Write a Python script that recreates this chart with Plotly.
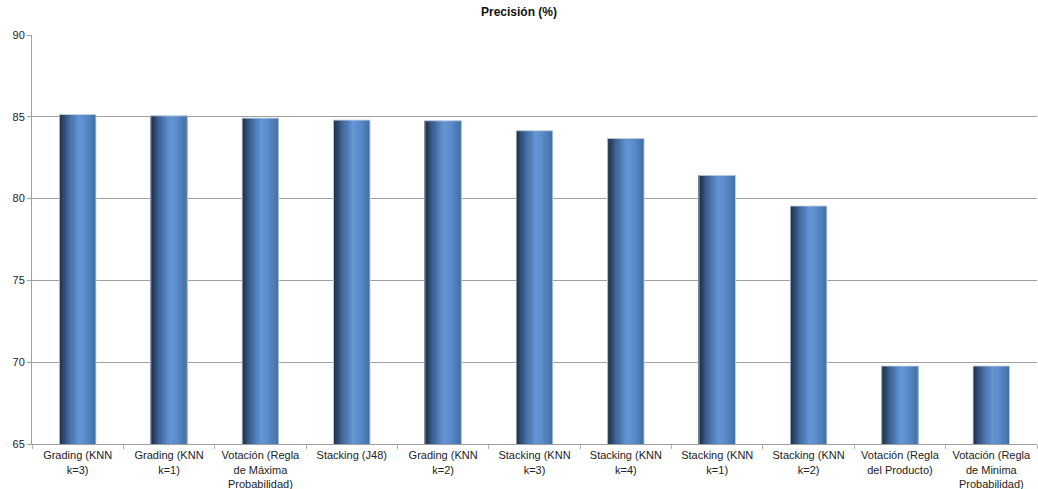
import plotly.graph_objects as go

# Classifier ensembles and their precision
categories = [
    "Grading (KNN<br>k=3)",
    "Grading (KNN<br>k=1)",
    "Votación (Regla<br>de Máxima<br>Probabilidad)",
    "Stacking (J48)",
    "Grading (KNN<br>k=2)",
    "Stacking (KNN<br>k=3)",
    "Stacking (KNN<br>k=4)",
    "Stacking (KNN<br>k=1)",
    "Stacking (KNN<br>k=2)",
    "Votación (Regla<br>del Producto)",
    "Votación (Regla<br>de Minima<br>Probabilidad)",
]
precision = [85.14, 85.06, 84.92, 84.8, 84.76, 84.15, 83.68, 81.42, 79.55, 69.77, 69.77]

y_ticks = [65, 70, 75, 80, 85, 90]

# Horizontal shading stops across each bar (position, rgb)
stops = [
    (0.00, (26, 42, 66)),
    (0.25, (62, 102, 153)),
    (0.55, (100, 150, 214)),
    (0.75, (88, 137, 200)),
    (1.00, (68, 112, 160)),
]


def shade(t):
    for (p0, c0), (p1, c1) in zip(stops, stops[1:]):
        if p0 <= t <= p1:
            f = (t - p0) / (p1 - p0) if p1 > p0 else 0
            r, g, b = (round(a + (b_ - a) * f) for a, b_ in zip(c0, c1))
            return f"rgb({r},{g},{b})"
    return "rgb(68,112,160)"


bar_w = 0.4
n_slices = 32
step = bar_w / n_slices

fig = go.Figure()
for i in range(n_slices):
    t = (i + 0.5) / n_slices
    fig.add_trace(go.Bar(
        x=categories,
        y=precision,
        width=step * (1.6 if i < n_slices - 1 else 1.0),
        offset=-bar_w / 2 + i * step,
        marker=dict(color=shade(t), line=dict(width=0)),
        showlegend=False,
        hoverinfo="skip",
    ))

# thin light outline around each bar
fig.add_trace(go.Bar(
    x=categories,
    y=precision,
    width=bar_w,
    offset=-bar_w / 2,
    marker=dict(color="rgba(0,0,0,0)", line=dict(color="rgba(205,215,228,0.9)", width=1)),
    showlegend=False,
    hovertemplate="%{x}: %{y}<extra></extra>",
))

fig.update_layout(
    barmode="overlay",
    width=1038,
    height=489,
    margin=dict(l=32, r=1, t=35, b=45),
    paper_bgcolor="white",
    plot_bgcolor="white",
    font=dict(family="Liberation Sans, Arial, sans-serif", size=11, color="#222"),
    title=dict(
        text="<b>Precisión (%)</b>",
        x=0.5,
        xanchor="center",
        y=0.985,
        yanchor="top",
        font=dict(size=12, color="#111"),
    ),
    xaxis=dict(
        type="category",
        tickson="boundaries",
        ticks="outside",
        ticklen=4,
        tickcolor="#b0b0b0",
        showline=True,
        linecolor="#a0a0a0",
        linewidth=1,
        showgrid=False,
        automargin=False,
        ticklabelstandoff=1,
        tickfont=dict(size=11, color="#222"),
    ),
    yaxis=dict(
        range=[65, 90],
        tickvals=y_ticks,
        ticks="outside",
        ticklen=4,
        tickcolor="#a0a0a0",
        showline=True,
        linecolor="#a0a0a0",
        linewidth=1,
        showgrid=True,
        gridcolor="#a0a0a0",
        gridwidth=1,
        zeroline=False,
        automargin=False,
        tickfont=dict(size=11, color="#222"),
    ),
)

fig.write_html("out.html")
